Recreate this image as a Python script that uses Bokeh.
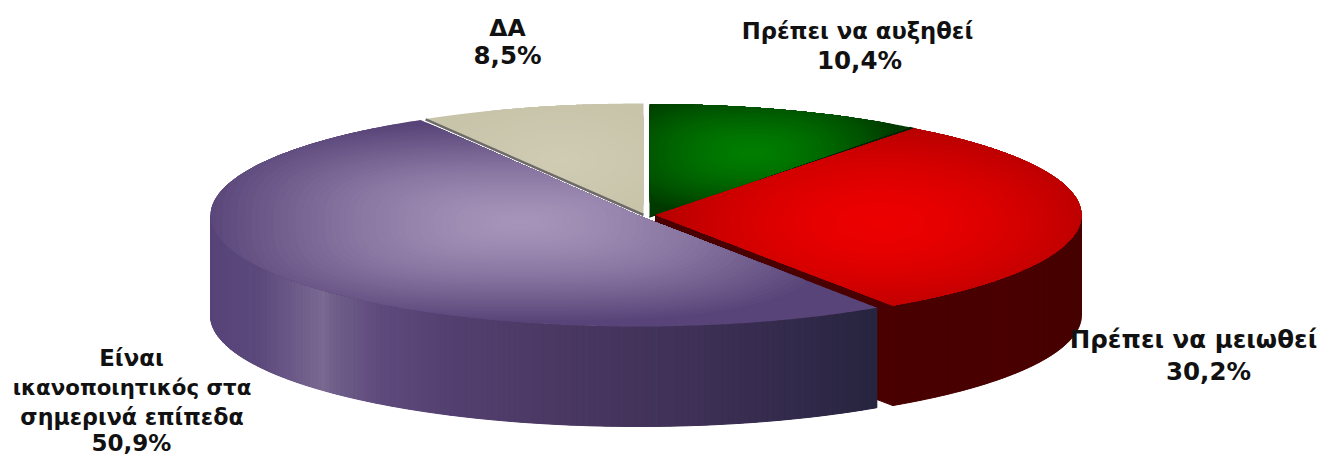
import numpy as np
from bokeh.plotting import figure
from bokeh.core.properties import value
from bokeh.embed import file_html
from bokeh.resources import INLINE

# ---- data -----------------------------------------------------------------
categories = ["Πρέπει να αυξηθεί", "Πρέπει να μειωθεί",
              "Είναι ικανοποιητικός στα σημερινά επίπεδα", "ΔΑ"]
shares = [10.4, 30.2, 50.9, 8.5]
share_labels = ["10,4%", "30,2%", "50,9%", "8,5%"]

# ---- page / projection ------------------------------------------------------
W, H = 1323, 457
DEPTH = 100
TAU = 2 * np.pi
cum = np.cumsum([0] + shares) / 100 * TAU
START, END = cum[:-1], cum[1:]

# per slice: centre x, centre y, rx, ry (slices are slightly pulled apart)
GEOM = [(649, 216.5, 428, 113), (655, 214.5, 426, 109),
        (638, 215, 428, 111), (643, 214, 428, 111)]
# shading of each top face: focus x, y, radius x, y, bright, dark, exponent, superellipse power
SHADE = [
    (752, 152, 150, 62, (0, 125, 0), (0, 58, 0), 1.6, 2.5),
    (880, 222, 255, 110, (236, 0, 0), (168, 0, 0), 1.8, 2.0),
    (520, 222, 320, 100, (166, 148, 186), (88, 68, 120), 1.5, 3.0),
    (560, 160, 130, 60, (208, 204, 180), (200, 196, 170), 1.0, 2.0),
]
# vertical walls: colour stops along page x
WALL_RED = ([880, 900, 1000, 1081], [(72, 0, 0), (72, 0, 0), (74, 0, 0), (70, 0, 0)])
WALL_PURPLE = ([210, 260, 322, 332, 380, 450, 560, 700, 800, 877],
               [(88, 68, 120), (92, 74, 125), (122, 106, 146), (112, 96, 138), (94, 74, 124),
                (84, 64, 112), (74, 56, 98), (62, 48, 86), (50, 42, 74), (38, 36, 62)])


def rim(i, a):
    cx, cy, rx, ry = GEOM[i]
    return cx + rx * np.sin(a), cy - ry * np.cos(a)


def outline(i, n=400):
    """Closed outline of a slice's top face, densely sampled."""
    cx, cy, _, _ = GEOM[i]
    ax, ay = rim(i, np.linspace(START[i], END[i], n))
    t = np.linspace(0, 1, 100)
    x = np.r_[cx + (ax[0] - cx) * t, ax, ax[-1] + (cx - ax[-1]) * t]
    y = np.r_[cy + (ay[0] - cy) * t, ay, ay[-1] + (cy - ay[-1]) * t]
    return x, y


def lerp(c0, c1, s):
    return "#%02x%02x%02x" % tuple(int(round(a + (b - a) * s)) for a, b in zip(c0, c1))


def top_face(i, levels=44, n=540):
    x, y = outline(i)
    fx, fy, erx, ery, hi, lo, ex, pw = SHADE[i]
    th = np.arctan2(y - fy, x - fx)
    rad = np.hypot(x - fx, y - fy)
    order = np.argsort(th)
    dirs = np.linspace(-np.pi, np.pi, n, endpoint=False)
    rb = np.interp(dirs, th[order], rad[order], period=TAU)
    xs, ys, cs = [list(x)], [list(y)], [lerp(hi, lo, 1)]
    ell = (np.abs(np.cos(dirs) / erx) ** pw + np.abs(np.sin(dirs) / ery) ** pw) ** (-1 / pw)
    for d in np.linspace(1, 0.02, levels):
        r = np.minimum(rb, ell * d)
        xs.append(list(fx + r * np.cos(dirs)))
        ys.append(list(fy + r * np.sin(dirs)))
        cs.append(lerp(hi, lo, d ** ex))
    return xs, ys, cs


def wall(i, a0, a1, stops, n=160):
    a = np.linspace(a0, a1, n)
    ax, ay = rim(i, a)
    xs, ys, cs = [], [], []
    px, cols = stops
    for k in range(n - 1):
        xs.append([ax[k], ax[k + 1], ax[k + 1], ax[k]])
        ys.append([ay[k], ay[k + 1], ay[k + 1] + DEPTH, ay[k] + DEPTH])
        xm = (ax[k] + ax[k + 1]) / 2
        cs.append("#%02x%02x%02x" % tuple(int(round(np.interp(xm, px, [c[j] for c in cols])))
                                          for j in range(3)))
    base_x = np.r_[ax, ax[::-1]]
    base_y = np.r_[ay, ay[::-1] + DEPTH]
    return xs, ys, cs, base_x, base_y


p = figure(width=W, height=H, x_range=(0, W), y_range=(H, 0),
           output_backend="svg", toolbar_location=None, min_border=0,
           background_fill_color="white", border_fill_color="white",
           outline_line_color=None)
p.axis.visible = False
p.grid.visible = False

# dark seams between pulled-apart slices: drawn first, faces cover their sides
def seam(i, ai, j, aj, color):
    xi, yi = rim(i, ai)
    xj, yj = rim(j, aj)
    p.patch([GEOM[i][0], xi, xj, GEOM[j][0]], [GEOM[i][1], yi, yj, GEOM[j][1]],
            fill_color=color, line_color=color, line_width=1)

seam(0, END[0], 1, START[1], "#002400")

# red wall and the red cut face that shows beside the purple wall
xs, ys, cs, bx, by = wall(1, TAU / 4, END[1], WALL_RED)
p.patch(bx, by, fill_color="#4a0000", line_color="#4a0000")
p.patches(xs, ys, fill_color=cs, line_color=None)
cx, cy, _, _ = GEOM[1]
ex_, ey_ = rim(1, END[1])
p.patch([cx, ex_, ex_, cx], [cy, ey_, ey_ + DEPTH, cy + DEPTH], fill_color="#4a0000", line_color="#4a0000")

# purple wall
xs, ys, cs, bx, by = wall(2, START[2], 3 * TAU / 4, WALL_PURPLE)
p.patch(bx, by, fill_color="#4e3e70", line_color=None)
p.patches(xs, ys, fill_color=cs, line_color=cs, line_width=1)

# top faces, back to front
for i in (2, 3, 0, 1):
    xs, ys, cs = top_face(i)
    p.patches(xs, ys, fill_color=cs, line_color=None)

# edge line under the beige slice
cx, cy, _, _ = GEOM[3]
ax_, ay_ = rim(3, START[3])
p.line([cx, ax_], [cy + 0.5, ay_ + 0.5], line_color="#6e6a6a", line_width=2.5)

# labels: text, x, y, font size in px
LABELS = [
    (categories[3], 507, 27, 23.5), (share_labels[3], 507, 55, 24.5),
    (categories[0], 857, 30, 22.7), (share_labels[0], 859, 60, 24.5),
    (categories[1], 1193, 339, 24.5), (share_labels[1], 1208, 371, 24.5),
    ("Είναι", 131, 357, 22.8), ("ικανοποιητικός στα", 131.5, 387, 21.3),
    ("σημερινά επίπεδα", 131.5, 416, 22.2), (share_labels[2], 131, 442.5, 23),
]
p.text([l[1] for l in LABELS], [l[2] for l in LABELS], text=[l[0] for l in LABELS],
       text_font=value("DejaVu Sans"), text_font_style="bold",
       text_font_size=["%gpx" % l[3] for l in LABELS],
       text_color="#111111", text_align="center", text_baseline="middle")

open("out.html", "w").write(file_html(p, INLINE))
